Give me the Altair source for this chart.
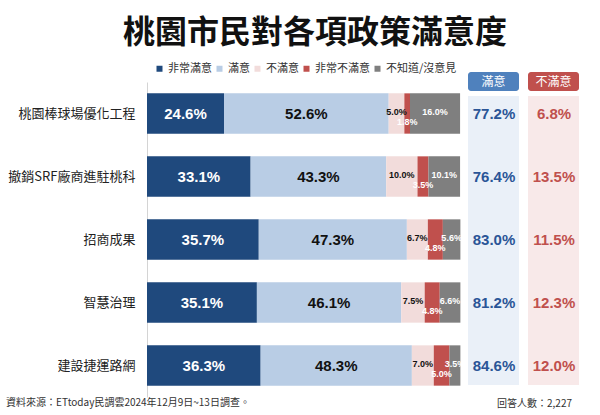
import altair as alt
import pandas as pd

# ---------------- data ----------------
title_text = "桃園市民對各項政策滿意度"
categories = ["桃園棒球場優化工程", "撤銷SRF廠商進駐桃科", "招商成果", "智慧治理", "建設捷運路網"]
series = ["非常滿意", "滿意", "不滿意", "非常不滿意", "不知道/沒意見"]
very_satisfied = [24.6, 33.1, 35.7, 35.1, 36.3]
satisfied = [52.6, 43.3, 47.3, 46.1, 48.3]
dissatisfied = [5.0, 10.0, 6.7, 7.5, 7.0]
very_dissatisfied = [1.8, 3.5, 4.8, 4.8, 5.0]
no_opinion = [16.0, 10.1, 5.6, 6.6, 3.5]
total_satisfied = [77.2, 76.4, 83.0, 81.2, 84.6]
total_dissatisfied = [6.8, 13.5, 11.5, 12.3, 12.0]
colors = ["#1F497D", "#B9CDE5", "#F2DCDB", "#C0504D", "#7F7F7F"]

# ---------------- tables ----------------
values_by_series = [very_satisfied, satisfied, dissatisfied, very_dissatisfied, no_opinion]
rows = []
for ci, cat in enumerate(categories):
    start = 0.0
    for si, s in enumerate(series):
        v = values_by_series[si][ci]
        rows.append({"category": cat, "series": s, "order": si, "value": v,
                     "start": start, "end": start + v, "mid": start + v / 2,
                     "label": f"{v:.1f}%"})
        start += v
df = pd.DataFrame(rows)

tot = pd.DataFrame({"category": categories,
                    "sat": [f"{v:.1f}%" for v in total_satisfied],
                    "dis": [f"{v:.1f}%" for v in total_dissatisfied]})
one = pd.DataFrame({"k": [0]})

NUMFONT = "Liberation Sans"
CJK = "Noto Sans CJK TC"

xscale = alt.Scale(domain=[0, 141.5], nice=False, zero=False)
yenc = alt.Y("category:N", sort=categories,
             scale=alt.Scale(paddingInner=0.36, paddingOuter=0.18),
             axis=alt.Axis(title=None, ticks=False, labelFontSize=13, labelFont=CJK,
                           labelColor="#222", labelPadding=12, domainColor="#d4d4d4",
                           domainWidth=1, grid=False))

base = alt.Chart(df)

bars = base.mark_bar().encode(
    x=alt.X("start:Q", scale=xscale, axis=None),
    x2="end:Q",
    y=yenc,
    color=alt.Color("series:N", sort=series,
                    scale=alt.Scale(domain=series, range=colors),
                    legend=alt.Legend(orient="none", legendX=7, legendY=-19,
                                      direction="horizontal", columns=5, title=None,
                                      symbolType="square", symbolSize=36,
                                      symbolStrokeWidth=0, labelFontSize=11,
                                      labelFont=CJK, labelColor="#333",
                                      labelOffset=3, columnPadding=2, padding=0)),
)

def seg_text(sname, color, size, dy):
    return base.transform_filter(alt.datum.series == sname).mark_text(
        font=NUMFONT, fontWeight="bold", fontSize=size, color=color, dy=dy,
        baseline="middle", align="center").encode(
        x=alt.X("mid:Q", scale=xscale, axis=None), y=yenc, text="label:N")

t0 = seg_text(series[0], "white", 15, 0)
t1 = seg_text(series[1], "#111", 15, 0)
t2 = seg_text(series[2], "#111", 9, -2)
t3 = seg_text(series[3], "white", 9, 8)
t4 = seg_text(series[4], "white", 9, -2)

# right-hand summary columns
bg_sat = alt.Chart(one).mark_rect(color="#EAF0F8").encode(
    x=alt.value(321), x2=alt.value(372), y=alt.value(14), y2=alt.value(303))
bg_dis = alt.Chart(one).mark_rect(color="#F8E9E9").encode(
    x=alt.value(381), x2=alt.value(432), y=alt.value(14), y2=alt.value(303))
hd_sat = alt.Chart(one).mark_rect(color="#4F81BD", cornerRadius=3).encode(
    x=alt.value(321), x2=alt.value(372), y=alt.value(-10), y2=alt.value(9))
hd_dis = alt.Chart(one).mark_rect(color="#C0504D", cornerRadius=3).encode(
    x=alt.value(381), x2=alt.value(432), y=alt.value(-10), y2=alt.value(9))
hd_sat_t = alt.Chart(pd.DataFrame({"t": ["滿意"]})).mark_text(
    font=CJK, fontSize=12, color="white", baseline="middle", align="center").encode(
    x=alt.value(346.5), y=alt.value(-0.5), text="t:N")
hd_dis_t = alt.Chart(pd.DataFrame({"t": ["不滿意"]})).mark_text(
    font=CJK, fontSize=12, color="white", baseline="middle", align="center").encode(
    x=alt.value(406.5), y=alt.value(-0.5), text="t:N")

sat_t = alt.Chart(tot).mark_text(font=NUMFONT, fontWeight="bold", fontSize=15,
                                 color="#2A5597", baseline="middle", align="center").encode(
    x=alt.value(347), y=yenc, text="sat:N")
dis_t = alt.Chart(tot).mark_text(font=NUMFONT, fontWeight="bold", fontSize=15,
                                 color="#C0504D", baseline="middle", align="center").encode(
    x=alt.value(407), y=yenc, text="dis:N")

title = alt.Chart(pd.DataFrame({"t": [title_text]})).mark_text(
    font=CJK, fontSize=32, fontWeight="bold", color="#111",
    baseline="middle", align="center").encode(
    x=alt.value(168), y=alt.value(-49), text="t:N")

src = alt.Chart(pd.DataFrame({"t": ["資料來源：ETtoday民調雲2024年12月9日~13日調查。"]})).mark_text(
    font=CJK, fontSize=10, color="#333", baseline="middle", align="left").encode(
    x=alt.value(-141), y=alt.value(321), text="t:N")
resp = alt.Chart(pd.DataFrame({"t": ["回答人數：2,227"]})).mark_text(
    font=CJK, fontSize=10, color="#333", baseline="middle", align="right").encode(
    x=alt.value(425), y=alt.value(322), text="t:N")

chart = alt.layer(
    bg_sat, bg_dis, hd_sat, hd_dis, hd_sat_t, hd_dis_t,
    bars, t0, t1, t2, t3, t4, sat_t, dis_t, title, src, resp
).properties(
    width=443, height=315,
    padding={"left": 147, "top": 82, "right": 10, "bottom": 18},
    autosize="none",
).configure_view(stroke=None)

chart.save("out.html", embed_options={"renderer": "svg", "actions": False})
